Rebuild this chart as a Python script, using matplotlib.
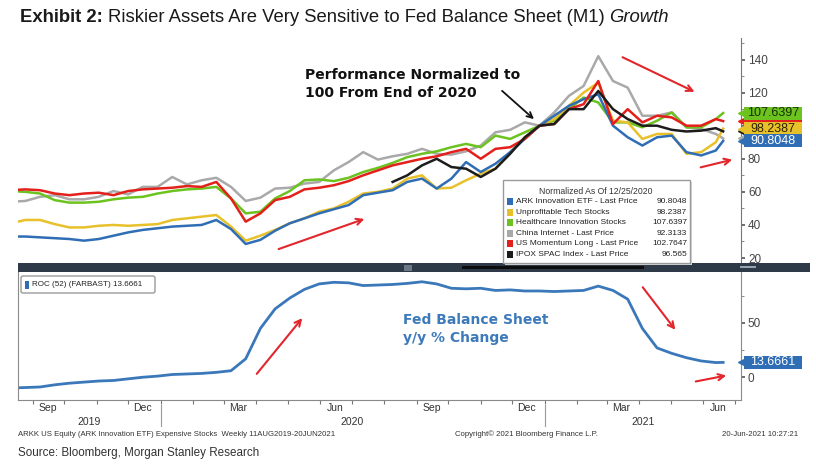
import numpy as np
import pandas as pd
import matplotlib
matplotlib.use('Agg')
import matplotlib.pyplot as plt
import matplotlib.dates as mdates
from matplotlib.patches import Rectangle, FancyBboxPatch
from matplotlib.ticker import NullFormatter, MultipleLocator
from matplotlib.transforms import blended_transform_factory

# Weekly Bloomberg data sampled every 2 weeks, normalized to 100 at end of 2020
dates = list(pd.date_range('2019-08-11', '2021-06-13', freq='14D')) + [pd.Timestamp('2021-06-20')]

ark = [33, 33, 32.5, 32, 31.5, 30.5, 31.5, 33.5, 35.5, 37,
       38, 39, 39.5, 40, 43, 37.5, 28.5, 31, 36.5, 41,
       44, 47, 49.5, 52, 58, 59.5, 61, 66, 68, 62,
       68, 78, 72, 77, 84, 92, 100, 106, 112, 116,
       119, 100, 93, 88, 93, 94, 84, 82, 85, 90.8048]
unprofitable = [41, 43, 43, 40.5, 38.5, 38.5, 39.5, 40, 39.5, 40,
                40.5, 43, 44, 45, 46, 39, 30.5, 33.5, 37, 41,
                44, 48, 50, 54, 59, 60, 62, 68, 70, 62,
                62.5, 67, 71, 74, 84, 93, 100, 104, 112, 120,
                126, 103, 102, 92, 95, 95, 83, 84, 90, 98.2387]
healthcare = [60.5, 60, 59, 55, 53.5, 53.5, 54, 55.5, 56.5, 57,
              59, 60.5, 61.5, 62, 63, 56, 47, 48, 56, 60.5,
              67, 67.5, 66.5, 68.5, 72, 74.5, 77.5, 81, 83, 84.5,
              87, 89, 87, 94, 92, 96, 100, 103, 110, 117,
              114, 102, 102, 99, 103, 108, 99, 99, 104, 107.6397]
china = [54, 54.5, 57, 58, 55.5, 55.5, 57, 60.5, 58.5, 63,
         63, 69, 64.5, 67, 68.5, 63, 54.5, 56.5, 62, 62.5,
         65, 66, 73, 78, 84, 79.5, 81.5, 83, 86, 83,
         82.5, 84.5, 88, 96, 97.5, 102, 100, 108, 118, 124,
         142, 127, 123, 106, 106, 108, 99, 98, 95, 92.3133]
momentum = [61, 61.5, 61, 59, 58, 59, 59.5, 58, 60.5, 61.5,
            62, 62.5, 63.5, 63, 66, 56, 42, 47, 55, 57,
            61.5, 62.5, 64, 66.5, 70, 73, 76, 78, 80, 81.5,
            84, 86, 80, 86, 87, 92, 100, 101, 110, 113,
            127, 101, 110, 102, 106, 105, 100, 100, 104, 102.7647]
spac = [np.nan] * 26 + [66, 70, 76, 80, 75, 74, 69, 74, 83, 93,
                        100, 101, 110, 110, 121, 110, 104, 100, 100, 97.5,
                        96.5, 97, 98.5, 96.565]
# Fed balance sheet rate of change (52 weeks), %
roc = [-10, -9.5, -9, -7, -5.5, -4.5, -3.5, -3, -1.5, 0,
       1, 2.5, 3, 3.5, 4.5, 6, 17, 45, 63, 73,
       81, 86, 87.5, 87, 84.5, 85, 85.5, 86.5, 88, 86,
       82, 81.5, 82, 80, 80.5, 79.5, 79.5, 79, 79.5, 80,
       84, 80, 72, 45, 27, 22, 18, 15, 13.5, 13.6661]

names = ['ARK Innovation ETF - Last Price', 'Unprofitable Tech Stocks',
         'Healthcare Innovation Stocks', 'China Internet - Last Price',
         'US Momentum Long - Last Price', 'IPOX SPAC Index - Last Price']
last_txt = ['90.8048', '98.2387', '107.6397', '92.3133', '102.7647', '96.565']
series = [ark, unprofitable, healthcare, china, momentum, spac]
colors = ['#2f6db5', '#e8c12a', '#6cc31f', '#a9a9a9', '#e3201b', '#1c1c1c']
tag_text = ['white', '#2b2300', '#163000', '#111111', 'white', 'white']

RED = '#e3262b'
SANS = ['Liberation Sans', 'DejaVu Sans']

W, H = 816, 465
fig = plt.figure(figsize=(W / 100, H / 100), dpi=100)
fig.patch.set_facecolor('white')

x0, x1 = pd.Timestamp('2019-08-18'), pd.Timestamp('2021-07-07')


def add_tag(ax, value, color, text=None, tcolor='white', half=3.95):
    """Bloomberg style last-value tag on the right axis"""
    tr = blended_transform_factory(ax.transAxes, ax.transData)
    ax.plot(1.0, value, marker='<', ms=5, color=color, transform=tr, clip_on=False, zorder=6)
    ax.add_patch(Rectangle((1.004, value - half), 0.080, 2 * half, transform=tr,
                           fc=color, ec='none', clip_on=False, zorder=6))
    if text:
        ax.text(1.044, value, text, transform=tr, ha='center', va='center', fontsize=9,
                family=SANS, color=tcolor, clip_on=False, zorder=7)


# ---- top panel
ax1 = fig.add_axes([18 / W, 1 - 263 / H, 723 / W, 225 / H])
for i in [3, 2, 1, 0, 4, 5]:
    ax1.plot(dates, series[i], color=colors[i], lw=1.8, solid_joinstyle='round')
ax1.set_xlim(x0, x1)
ax1.set_ylim(17, 153)
ax1.set_xticks([])
ax1.yaxis.tick_right()
ax1.set_yticks([20, 40, 60, 80, 100, 120, 140])
ax1.set_yticklabels(['20', '40', '60', '80', '', '120', '140'])
ax1.yaxis.set_minor_locator(MultipleLocator(10))
ax1.tick_params(axis='y', which='major', length=3, width=1.2, color='#555555',
                labelsize=8.5, labelcolor='#444444', pad=2)
ax1.tick_params(axis='y', which='minor', length=2, color='#777777')
for lab in ax1.get_yticklabels():
    lab.set_family(SANS)
for s in ['top', 'left', 'bottom']:
    ax1.spines[s].set_visible(False)
ax1.spines['right'].set_color('#777777')

# tags hidden behind others are drawn first, without text
for i in [3, 5, 4]:
    add_tag(ax1, series[i][-1], colors[i])
for i in [2, 1, 0]:
    add_tag(ax1, series[i][-1], colors[i], last_txt[i], tag_text[i])

# ---- bottom panel
ax2 = fig.add_axes([18 / W, 1 - 400 / H, 723 / W, 128 / H])
ax2.plot(dates, roc, color='#3b78ba', lw=2.0)
ax2.set_xlim(x0, x1)
ax2.set_ylim(-21, 97)
ax2.yaxis.tick_right()
ax2.set_yticks([0, 50])
ax2.yaxis.set_minor_locator(MultipleLocator(25))
ax2.tick_params(axis='y', which='major', length=3, width=1.2, color='#555555',
                labelsize=8.5, labelcolor='#444444', pad=2)
ax2.tick_params(axis='y', which='minor', length=2, color='#777777')
for lab in ax2.get_yticklabels():
    lab.set_family(SANS)
ax2.spines['top'].set_visible(False)
for s in ['left', 'bottom', 'right']:
    ax2.spines[s].set_color('#8a8a8a')
ax2.xaxis.set_major_locator(mdates.MonthLocator())
ax2.xaxis.set_major_formatter(NullFormatter())
ax2.xaxis.set_minor_locator(mdates.MonthLocator(bymonth=[3, 6, 9, 12], bymonthday=15))
ax2.xaxis.set_minor_formatter(mdates.DateFormatter('%b'))
ax2.tick_params(axis='x', which='major', length=3, color='#777777')
ax2.tick_params(axis='x', which='minor', length=0, pad=2, labelsize=7.5, labelcolor='#333333')
for lab in ax2.get_xticklabels(minor=True):
    lab.set_family(SANS)

transx = blended_transform_factory(ax2.transData, ax2.transAxes)
for yr in [2019, 2020, 2021]:
    a = max(x0, pd.Timestamp(f'{yr}-01-01'))
    b = min(x1, pd.Timestamp(f'{yr}-12-31'))
    ax2.text(a + (b - a) / 2, -0.175, str(yr), transform=transx, ha='center', va='center',
             fontsize=7.5, family=SANS, color='#333333')
    if yr > 2019:
        jan = mdates.date2num(pd.Timestamp(f'{yr}-01-01'))
        ax2.plot([jan, jan], [-0.04, -0.2], transform=transx, color='#999999', lw=0.8, clip_on=False)

add_tag(ax2, roc[-1], '#2f6db5', '13.6661', 'white', half=6.2)

# ---- overlay in pixel coordinates for annotations
ov = fig.add_axes([0, 0, 1, 1], zorder=10)
ov.set_xlim(0, W)
ov.set_ylim(H, 0)
ov.axis('off')
ov.patch.set_alpha(0)

# separator band
ov.add_patch(Rectangle((18, 263), 792, 9, fc='#2e3a47', ec='none'))
ov.add_patch(Rectangle((462, 265.5), 182, 3.5, fc='#0d0d0d', ec='none'))
ov.add_patch(Rectangle((404, 264.5), 8, 6, fc='#6d7884', ec='none'))
ov.add_patch(Rectangle((740, 266), 16, 2, fc='#9aa3ad', ec='none'))

# title
fig.canvas.draw()
rend = fig.canvas.get_renderer()
tx = 20
for s, wt, st in [('Exhibit 2:', 'bold', 'normal'),
                  ('Riskier Assets Are Very Sensitive to Fed Balance Sheet (M1)', 'normal', 'normal'),
                  ('Growth', 'normal', 'italic')]:
    t = ov.text(tx, 18, s, fontsize=13.3, fontweight=wt, fontstyle=st, family=SANS,
                color='#1a1a1a', ha='left', va='center')
    tx += t.get_window_extent(renderer=rend).width + 5

# normalized note
ov.text(305, 75, 'Performance Normalized to', fontsize=10, fontweight='bold',
        family='DejaVu Sans', ha='left', va='center', color='#111111')
ov.text(305, 93, '100 From End of 2020', fontsize=10, fontweight='bold',
        family='DejaVu Sans', ha='left', va='center', color='#111111')
ov.annotate('', xy=(536, 121), xytext=(500, 89),
            arrowprops=dict(arrowstyle='->', color='#111111', lw=1.3, mutation_scale=10))

ov.text(403, 320, 'Fed Balance Sheet', fontsize=10, fontweight='bold',
        family='DejaVu Sans', ha='left', va='center', color='#3d7aba')
ov.text(403, 338, 'y/y % Change', fontsize=10, fontweight='bold',
        family='DejaVu Sans', ha='left', va='center', color='#3d7aba')

# hand drawn red arrows
for (xs, ys), (xe, ye) in [((276, 250), (367, 218)), ((620, 56), (697, 93)),
                           ((698, 168), (735, 159)), ((255, 376), (304, 316)),
                           ((641, 285), (677, 332)), ((693, 382), (729, 375))]:
    ov.annotate('', xy=(xe, ye), xytext=(xs, ys),
                arrowprops=dict(arrowstyle='->', color=RED, lw=1.5, mutation_scale=11))

# top legend box
ov.add_patch(Rectangle((505, 182), 187, 83, fc='#d6d6d6', ec='none'))
ov.add_patch(Rectangle((503, 180), 187, 83, fc='white', ec='#9a9a9a', lw=1))
ov.text(596, 191, 'Normalized As Of 12/25/2020', fontsize=6.2, family=SANS,
        ha='center', va='center', color='#333333')
for j, (nm, lv, c) in enumerate(zip(names, last_txt, colors)):
    yy = 201.5 + 10.6 * j
    ov.add_patch(Rectangle((507, yy - 3.5), 6, 7, fc=c, ec='none'))
    ov.text(516, yy, nm, fontsize=6, family=SANS, ha='left', va='center', color='#222222')
    ov.text(687, yy, lv, fontsize=6, family=SANS, ha='right', va='center', color='#222222')

# roc legend box
ov.add_patch(FancyBboxPatch((21, 276), 134, 17, boxstyle='round,pad=0,rounding_size=2',
                            fc='white', ec='#9a9a9a', lw=1))
ov.add_patch(Rectangle((25, 280.5), 4, 8, fc='#2f6db5', ec='none'))
ov.text(32, 284.5, 'ROC (52) (FARBAST) 13.6661', fontsize=5.8, family=SANS,
        ha='left', va='center', color='#222222')

# footers
ov.text(18, 434, 'ARKK US Equity (ARK Innovation ETF) Expensive Stocks  Weekly 11AUG2019-20JUN2021',
        fontsize=5.6, family=SANS, ha='left', va='center', color='#333333')
ov.text(455, 434, 'Copyright\u00a9 2021 Bloomberg Finance L.P.', fontsize=5.6, family=SANS,
        ha='left', va='center', color='#333333')
ov.text(798, 434, '20-Jun-2021 10:27:21', fontsize=5.6, family=SANS,
        ha='right', va='center', color='#333333')
ov.text(18, 453, 'Source: Bloomberg, Morgan Stanley Research', fontsize=8.4, family=SANS,
        ha='left', va='center', color='#333333')

fig.savefig('out.png', dpi=100, facecolor='white')
